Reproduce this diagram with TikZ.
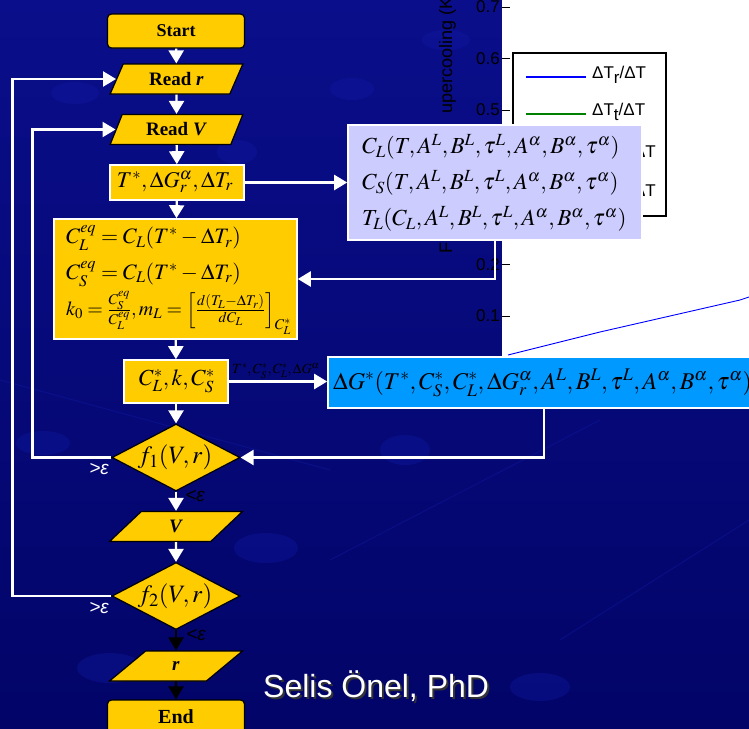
\documentclass[tikz,border=0pt]{standalone}
\usepackage{mathptmx}
\usepackage[no-math]{fontspec}
\setmainfont{Liberation Serif}
\setsansfont{Liberation Sans}
\usetikzlibrary{arrows.meta,shapes.geometric,calc}
\definecolor{goldc}{RGB}{255,204,0}
\definecolor{lavc}{RGB}{204,204,255}
\definecolor{skyc}{RGB}{0,153,255}
\definecolor{navytop}{RGB}{10,14,138}
\definecolor{navybot}{RGB}{2,4,104}
\definecolor{blobc}{RGB}{16,26,165}
\definecolor{legreen}{RGB}{0,128,0}
\begin{document}
\begin{tikzpicture}[x=1pt,y=-1pt,
  term/.style={draw=black, line width=1.2pt, fill=goldc, rounded corners=4pt, minimum width=137pt, minimum height=34pt, inner sep=0pt, font=\bfseries},
  iobox/.style={trapezium, trapezium left angle=63.4, trapezium right angle=116.6, trapezium stretches=true, draw=black, line width=1.2pt, fill=goldc, minimum width=133pt, minimum height=30pt, inner sep=0pt, font=\fontsize{19}{22}\selectfont\bfseries},
  procbox/.style={draw=white, line width=1.6pt, fill=goldc, inner sep=0pt},
  decbox/.style={diamond, draw=black, line width=1.2pt, fill=goldc, minimum width=128pt, minimum height=67pt, inner sep=0pt, aspect=1.9},
  conn/.style={draw=white, line width=2.3pt, -{Triangle[width=15pt,length=13pt]}},
  bconn/.style={draw=black, line width=2.3pt, -{Triangle[width=15pt,length=13pt]}},
  mtext/.style={inner sep=0pt, font=\fontsize{22}{24}\selectfont},
  ticklab/.style={font=\sffamily\fontsize{17}{20}\selectfont, text=black, anchor=east, inner sep=0pt},
  epsw/.style={font=\sffamily\itshape\fontsize{19}{20}\selectfont, text=white, inner sep=0pt},
  epsb/.style={font=\sffamily\itshape\fontsize{19}{20}\selectfont, text=black, inner sep=0pt},
  blob/.style={fill=blobc, opacity=0.35}
]
\useasboundingbox (0,0) rectangle (749,728);
% background
\shade[top color=navytop, bottom color=navybot] (0,0) rectangle (749,728);
\foreach \bx/\by/\rx/\ry in {75/93/24/11, 237/152/20/12, 446/40/24/10, 352/89/22/11, 405/450/25/15, 266/548/32/15, 110/668/33/15, 43/443/27/12, 540/687/30/14, 700/120/30/13}
  \fill[blob] (\bx,\by) ellipse ({\rx pt} and {\ry pt});
\draw[blobc, opacity=0.4, line width=1pt] (0,380) -- (330,470);
\draw[blobc, opacity=0.4, line width=1pt] (330,560) -- (600,420);
\draw[blobc, opacity=0.4, line width=1pt] (560,640) -- (749,520);
% plot fragment
\fill[white] (502,0) rectangle (749,357);
\foreach \ty/\tl in {7/0.7, 58.5/0.6, 110/0.5, 264.5/0.2, 316/0.1} {
  \draw[black, line width=0.9pt] (502,\ty) -- (510,\ty);
  \node[ticklab] (t\tl) at (500,\ty) {\tl};
}
\node[font=\sffamily\fontsize{18}{20}\selectfont, text=black, rotate=90, anchor=base east, inner sep=0pt] (ylab) at (452,-3) {upercooling (K};
\node[font=\sffamily\fontsize{18}{20}\selectfont, text=black, rotate=90, anchor=base west, inner sep=0pt] (ylabF) at (452,254) {F};
\draw[black, line width=1.1pt] (513,53) rectangle (666,216);
\draw[blue, line width=1.2pt] (526,77) -- (586,77);
\draw[legreen, line width=1.2pt] (526,114) -- (586,114);
\node[font=\sffamily\fontsize{17}{20}\selectfont, anchor=west, inner sep=0pt] (leg1) at (592,75) {ΔT\raisebox{-5pt}{r}/ΔT};
\node[font=\sffamily\fontsize{17}{20}\selectfont, anchor=west, inner sep=0pt] (leg2) at (592,112) {ΔT\raisebox{-5pt}{t}/ΔT};
\node[font=\sffamily\fontsize{17}{20}\selectfont, anchor=east, inner sep=0pt] (leg3) at (656,152) {ΔT};
\node[font=\sffamily\fontsize{17}{20}\selectfont, anchor=east, inner sep=0pt] (leg4) at (656,191) {ΔT};
\draw[blue, line width=0.9pt] (508,355) -- (560,342) -- (600,332) -- (670,316) -- (740,300) -- (749,297);
% flowchart nodes
\node[term, font=\fontsize{18}{20}\selectfont\bfseries] (start) at (176,31) {Start};
\node[iobox] (readr) at (176.5,79) {Read \textit{r}};
\node[iobox] (readv) at (176.5,129.5) {Read \textit{V}};
\node[procbox, minimum width=134pt, minimum height=35pt] (tbox) at (177,182.5) {};
\node[mtext, font=\fontsize{22.5}{24}\selectfont] (ttext) at (175,182) {$T^*,\Delta G_r^\alpha,\Delta T_r$};
\node[procbox, minimum width=243pt, minimum height=120pt] (eqbox) at (175.5,279) {};
\node[mtext, anchor=west] (eq1) at (66,238) {$C_L^{eq}=C_L(T^*-\Delta T_r)$};
\node[mtext, anchor=west] (eq2) at (66,274) {$C_S^{eq}=C_L(T^*-\Delta T_r)$};
\node[mtext, anchor=west, font=\fontsize{20}{24}\selectfont] (eq3) at (66,313) {$k_0=\frac{C_S^{eq}}{C_L^{eq}},m_L=\left[\frac{d(T_L-\Delta T_r)}{dC_L}\right]_{C_L^*}$};
\node[procbox, minimum width=104pt, minimum height=43pt] (cbox) at (176,381.5) {};
\node[mtext, font=\fontsize{23}{24}\selectfont] (ctext) at (177,381) {$C_L^*,k,C_S^*$};
\node[decbox] (f1) at (176,457.5) {};
\node[mtext, font=\fontsize{25}{26}\selectfont] (f1t) at (175,457.5) {$f_1(V,r)$};
\node[iobox] (vbox) at (176,526.5) {\textit{V}};
\node[decbox] (f2) at (176,596) {};
\node[mtext, font=\fontsize{25}{26}\selectfont] (f2t) at (175,596) {$f_2(V,r)$};
\node[iobox] (rbox) at (176,666) {\textit{r}};
\node[term, font=\fontsize{20}{22}\selectfont\bfseries] (endn) at (176,717) {End};
% side boxes
\node[draw=white, line width=1.6pt, fill=lavc, minimum width=294pt, minimum height=115pt, inner sep=0pt] (lav) at (495,182.5) {};
\node[mtext, anchor=west, font=\fontsize{23}{24}\selectfont] (l1) at (362,147) {$C_L(T,A^L,B^L,\tau^L,A^\alpha,B^\alpha,\tau^\alpha)$};
\node[mtext, anchor=west, font=\fontsize{23}{24}\selectfont] (l2) at (362,183) {$C_S(T,A^L,B^L,\tau^L,A^\alpha,B^\alpha,\tau^\alpha)$};
\node[mtext, anchor=west, font=\fontsize{23}{24}\selectfont] (l3) at (362,219) {$T_L(C_L,A^L,B^L,\tau^L,A^\alpha,B^\alpha,\tau^\alpha)$};
\node[draw=white, line width=1.6pt, fill=skyc, minimum width=432pt, minimum height=51pt, inner sep=0pt] (bluebox) at (544,382.5) {};
\node[mtext, anchor=west, font=\fontsize{24}{26}\selectfont] (bt) at (333,383) {$\Delta G^*(T^*,C_S^*,C_L^*,\Delta G_r^\alpha,A^L,B^L,\tau^L,A^\alpha,B^\alpha,\tau^\alpha)$};
\node[inner sep=0pt, anchor=west, font=\fontsize{14}{16}\selectfont, text=black] (clab) at (232,371) {$T^*,C_S^*,C_L^*,\Delta G^\alpha$};
% connectors
\draw[conn] (start) -- (readr);
\draw[conn] (readr) -- (readv);
\draw[conn] (readv) -- (tbox);
\draw[conn] (tbox) -- (eqbox);
\draw[conn] (eqbox) -- (cbox);
\draw[conn] (cbox) -- (f1);
\draw[conn] (f1) -- (vbox);
\draw[conn] (vbox) -- (f2);
\draw[bconn] (f2) -- (rbox);
\draw[bconn] (rbox) -- (endn);
\draw[conn] (tbox.east) -- (tbox.east -| lav.west);
\draw[conn] (lav.south) |- (eqbox.east);
\draw[conn] (cbox.east) -- (cbox.east -| bluebox.west);
\draw[conn] (bluebox.south) |- (f1.east);
\draw[conn] (f1.west) -- ++(-79,0) |- (readv.west);
\draw[conn] (f2.west) -- ++(-99,0) |- (readr.west);
% epsilon labels
\node[epsw] (e1) at (99,469) {>ε};
\node[epsb] (e2) at (195,496) {<ε};
\node[epsw] (e3) at (99,608) {>ε};
\node[epsb] (e4) at (196,635) {<ε};
% author (with drop shadow in one node)
\node[font=\sffamily\fontsize{32}{36}\selectfont, text=white, anchor=base west, inner sep=0pt] (auth) at (263,697) {\rlap{\hspace{2pt}\raisebox{-2pt}{\color{black!80}Selis Önel, PhD}}Selis Önel, PhD};
\end{tikzpicture}
\end{document}
